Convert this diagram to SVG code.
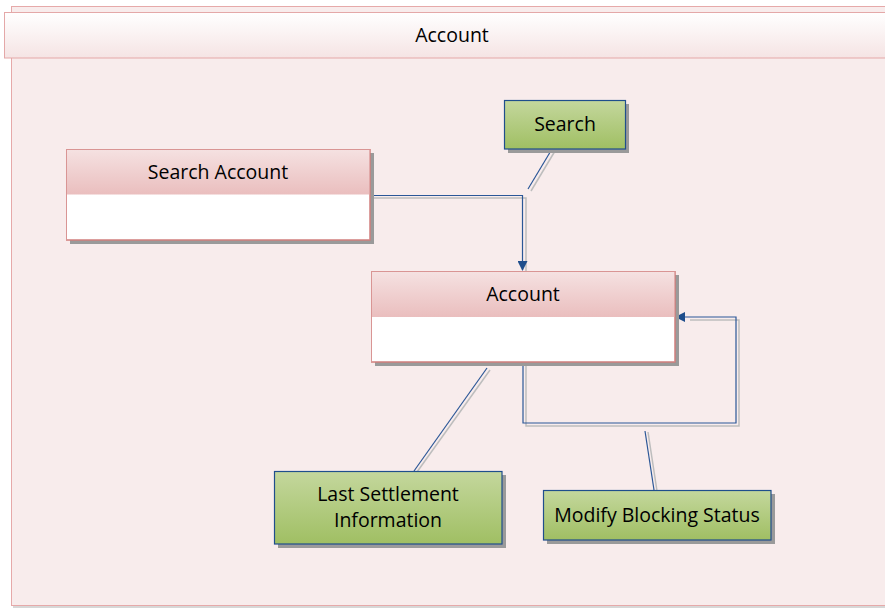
<svg xmlns="http://www.w3.org/2000/svg" width="885" height="608" viewBox="0 0 885 608">
<defs>
<linearGradient id="hdr" x1="0" y1="0" x2="0" y2="1"><stop offset="0" stop-color="#ffffff"/><stop offset="1" stop-color="#f5e4e4"/></linearGradient>
<linearGradient id="cls" x1="0" y1="0" x2="0" y2="1"><stop offset="0" stop-color="#f5e1e1"/><stop offset="1" stop-color="#eabebe"/></linearGradient>
<linearGradient id="grn" x1="0" y1="0" x2="0" y2="1"><stop offset="0" stop-color="#c4d79d"/><stop offset="1" stop-color="#a0bf63"/></linearGradient>
<marker id="arr" viewBox="0 0 10 10" refX="9" refY="5" markerWidth="11" markerHeight="10" markerUnits="userSpaceOnUse" orient="auto"><path d="M0,0 L10,5 L0,10 z" fill="#1f4e8c"/></marker>
</defs>
<style>
text{font-family:"Open Sans","Liberation Sans",sans-serif;font-size:19.5px;fill:#000;text-anchor:middle}
.shadow{fill:#9a9a9a}
.clsbox{fill:#ffffff;stroke:#c0504d;stroke-width:1}
.clshdr{fill:url(#cls)}
.clsout{fill:none;stroke:#d99594;stroke-width:1}
.green{fill:url(#grn);stroke:#1f4e8c;stroke-width:1.2}
.conn{fill:none;stroke:#2b5797;stroke-width:1.2}
.cshadow{fill:none;stroke:#bdbdbd;stroke-width:1.5}
</style>
<rect x="0" y="0" width="885" height="608" fill="#ffffff"/>
<g id="frame">
<rect x="13" y="8" width="880" height="600" fill="#bdbdbd" opacity="0.6"/>
<rect x="11.5" y="6.5" width="880" height="599" fill="#f8ecec" stroke="#e6a9a9" stroke-width="1"/>
<rect x="4.5" y="12.5" width="885" height="45.5" fill="url(#hdr)" stroke="#e4a8a8" stroke-width="1"/>
<text x="452" y="42">Account</text>
</g>
<g id="connectors">
<polyline class="cshadow" points="372,198 526,198 526,272"/>
<polyline class="conn" points="371,195.5 522.5,195.5 522.5,270" marker-end="url(#arr)"/>
<line class="cshadow" x1="555" y1="151" x2="531" y2="191"/>
<line class="conn" x1="552" y1="149" x2="528" y2="189"/>
<polyline class="cshadow" points="526,364 526,426 739,426 739,320 690,320"/>
<polyline class="conn" points="523,362 523,423 736,423 736,317 676,317" marker-end="url(#arr)"/>
<line class="cshadow" x1="490" y1="370" x2="417" y2="472"/>
<line class="conn" x1="487" y1="368" x2="414" y2="471"/>
<line class="cshadow" x1="648" y1="432" x2="657" y2="491"/>
<line class="conn" x1="645" y1="431" x2="654" y2="490"/>
</g>
<g id="search-account">
<rect class="shadow" x="70" y="153" width="304" height="91"/>
<rect class="clsbox" x="66.5" y="149.5" width="303.5" height="90.5"/>
<rect class="clshdr" x="67" y="150" width="302.5" height="44.5"/>
<rect class="clsout" x="66.5" y="149.5" width="303.5" height="90.5"/>
<text x="218" y="179">Search Account</text>
</g>
<g id="search">
<rect class="shadow" x="508" y="104" width="121" height="49"/>
<rect class="green" x="504.5" y="100.5" width="121" height="48.5"/>
<text x="565" y="131">Search</text>
</g>
<g id="account">
<rect class="shadow" x="375" y="275" width="304" height="91"/>
<rect class="clsbox" x="371.5" y="271.5" width="303.5" height="90.5"/>
<rect class="clshdr" x="372" y="272" width="302.5" height="45"/>
<rect class="clsout" x="371.5" y="271.5" width="303.5" height="90.5"/>
<text x="523" y="301">Account</text>
</g>
<g id="last-settlement">
<rect class="shadow" x="278" y="475" width="228" height="73"/>
<rect class="green" x="274.5" y="471.5" width="227.5" height="72.5"/>
<text x="388" y="501">Last Settlement</text>
<text x="388" y="527">Information</text>
</g>
<g id="modify-blocking">
<rect class="shadow" x="547" y="494" width="228" height="50"/>
<rect class="green" x="543.5" y="490.5" width="227.5" height="49.5"/>
<text x="657" y="522">Modify Blocking Status</text>
</g>
</svg>
